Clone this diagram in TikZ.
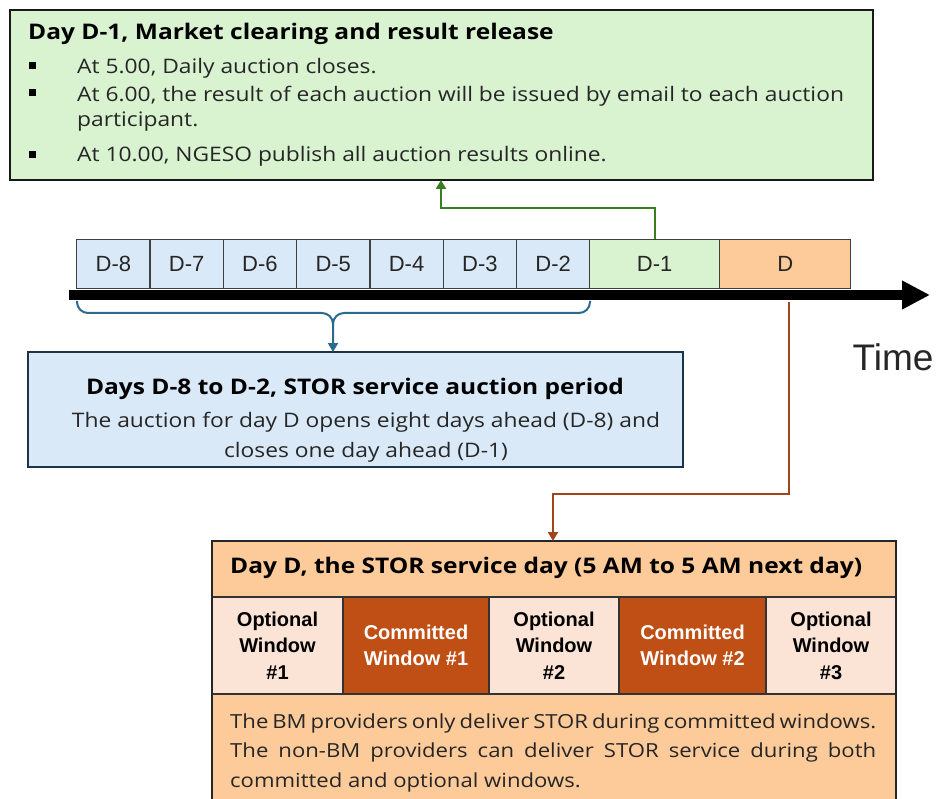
\documentclass[tikz,border=0pt]{standalone}
\usepackage{fontspec}
\setmainfont{Open Sans}[FakeStretch=1.14]
\newfontfamily\arialf{Liberation Sans}
\usetikzlibrary{arrows.meta,calc}
\definecolor{gfill}{HTML}{D9F2D0}
\definecolor{bfill}{HTML}{DAE9F8}
\definecolor{ofill}{HTML}{FDCA99}
\definecolor{pfill}{HTML}{FBE3D6}
\definecolor{cfill}{HTML}{C04F15}
\definecolor{gline}{HTML}{3A7D22}
\definecolor{bline}{HTML}{2A6A8C}
\definecolor{navy}{HTML}{1B3446}
\definecolor{brn}{HTML}{A0441A}
\definecolor{ink}{HTML}{262626}
\begin{document}
\begin{tikzpicture}[x=1pt,y=-1pt,
  tbox/.style={draw=black!75,line width=1.4pt,anchor=north west,inner sep=0pt,minimum height=49pt,font=\arialf\fontsize{22}{22}\selectfont,text=ink},
  txt/.style={anchor=base west,inner sep=0pt,font=\fontsize{20}{20}\selectfont,text=ink},
  stxt/.style={anchor=base west,inner sep=0pt,font=\fontsize{19.4}{20}\selectfont,text=ink},
  ctxt/.style={anchor=base,inner sep=0pt,font=\fontsize{20}{20}\selectfont,text=ink},
  ttl/.style={anchor=base west,inner sep=0pt,font=\bfseries\fontsize{21.5}{21.5}\selectfont,text=black},
  bigbox/.style={anchor=north west,inner sep=0pt,outer sep=0pt},
  win/.style={draw=black!80,line width=1.4pt,anchor=north west,inner sep=0pt,outer sep=0pt,minimum height=97pt,align=center,font=\arialf\bfseries\fontsize{20}{26.5}\selectfont},
  opt/.style={win,fill=pfill,text=black},
  com/.style={win,fill=cfill,text=white},
  conn/.style={line width=2pt,-{Triangle[length=9pt,width=10pt]}},
]
\useasboundingbox (0,0) rectangle (939,799);
\clip (0,0) rectangle (939,799);

% top green box
\node[bigbox,draw=black!90,line width=2.6pt,fill=gfill,minimum width=863pt,minimum height=170pt] (clear) at (10,10) {};
\node[ttl] (clearT) at (28,40) {Day D-1, Market clearing and result release};
\node[txt] (b1) at (77,74) {At 5.00, Daily auction closes.};
\node[txt] (b2) at (77,102) {At 6.00, the result of each auction will be issued by email to each auction};
\node[txt] (b2b) at (77,127) {participant.};
\node[txt] (b3) at (77,162) {At 10.00, NGESO publish all auction results online.};
\foreach \yy in {66,93,155} \fill[black] (29,\yy-3.5) rectangle ++(7,7);

% timeline
\coordinate (axL) at (69,295);
\coordinate (axR) at (930,295);
\draw[line width=10pt,-{Triangle[length=28pt,width=27pt]}] (axL) -- (axR);
\foreach \n [count=\k from 0] in {8,7,6,5,4,3,2}
  \node[tbox,fill=bfill,minimum width=73.3pt] (d\n) at ({76+73.3*\k},239) {D-\n};
\node[tbox,fill=gfill,minimum width=130pt] (d1) at (589,239) {D-1};
\node[tbox,fill=ofill,minimum width=131pt] (dd) at (719,239) {D};
\node[inner sep=0pt,font=\arialf\fontsize{37}{37}\selectfont,text=ink] (time) at (893,357) {Time};

% green connector
\coordinate (gx) at (441,0);
\draw[conn,gline] (d1.north) -- ++(0,-31) -| (gx |- clear.south);

% blue auction box
\node[bigbox,draw=navy,line width=2.2pt,fill=bfill,minimum width=655pt,minimum height=115pt] (auct) at (28,352) {};
\node[anchor=base,inner sep=0pt,font=\bfseries\fontsize{21.5}{21.5}\selectfont,text=black] (auctT) at (355,394) {Days D-8 to D-2, STOR service auction period};
\node[ctxt] (auct1) at (366,427) {The auction for day D opens eight days ahead (D-8) and};
\node[ctxt] (auct2) at (366,457) {closes one day ahead (D-1)};

% blue brace
\coordinate (brL) at (77,301);
\coordinate (brR) at (590,301);
\coordinate (brC) at (333,313);
\draw[bline,line width=2pt,rounded corners=11pt] (brR) |- (brC) -- ++(0,12);
\draw[conn,bline,rounded corners=11pt] (brL) |- (brC) -- (brC |- auct.north);

% day D box
\node[bigbox,fill=ofill,draw=black!85,line width=1.4pt,minimum width=684pt,minimum height=56pt] (dhdr) at (212,541) {};
\node[bigbox,fill=ofill,draw=black!85,line width=1.4pt,minimum width=684pt,minimum height=140pt] (dtxt) at (212,694) {};
\node[opt,minimum width=131pt] (w1) at (212,597) {Optional\\Window\\\#1};
\node[com,minimum width=146pt] (w2) at (343,597) {Committed\\Window \#1};
\node[opt,minimum width=130pt] (w3) at (489,597) {Optional\\Window\\\#2};
\node[com,minimum width=147pt] (w4) at (619,597) {Committed\\Window \#2};
\node[opt,minimum width=130pt] (w5) at (766,597) {Optional\\Window\\\#3};
\draw[black!85,line width=2.4pt] (dtxt.south west) -- (dhdr.north west) -- (dhdr.north east) -- (dtxt.south east);
\node[ttl] (dhdrT) at (230,573) {Day D, the STOR service day (5 AM to 5 AM next day)};
\node[stxt] (t1) at (230,728) {\hbox to 646pt{The BM providers only deliver STOR during committed windows.}};
\node[stxt] (t2) at (230,757) {\hbox to 646pt{The non-BM providers can deliver STOR service during both}};
\node[stxt] (t3) at (230,787) {committed and optional windows.};

% brown connector
\coordinate (bs) at (789,302);
\coordinate (bx) at (553,0);
\draw[conn,brn] (bs) -- ++(0,192) -| (bx |- dhdr.north);
\end{tikzpicture}
\end{document}
